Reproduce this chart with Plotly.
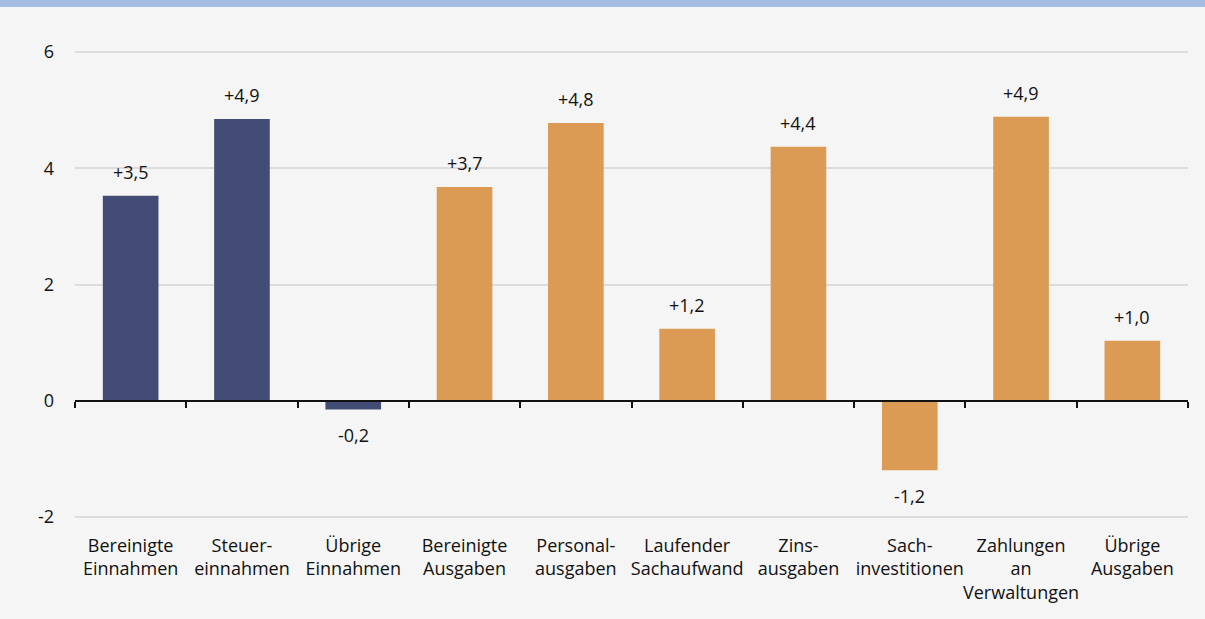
import plotly.graph_objects as go

categories = ["Bereinigte<br>Einnahmen", "Steuer-<br>einnahmen", "Übrige<br>Einnahmen",
              "Bereinigte<br>Ausgaben", "Personal-<br>ausgaben", "Laufender<br>Sachaufwand",
              "Zins-<br>ausgaben", "Sach-<br>investitionen", "Zahlungen<br>an<br>Verwaltungen",
              "Übrige<br>Ausgaben"]
values = [3.53, 4.85, -0.15, 3.68, 4.78, 1.24, 4.37, -1.2, 4.89, 1.03]
value_labels = ["+3,5", "+4,9", "-0,2", "+3,7", "+4,8", "+1,2", "+4,4", "-1,2", "+4,9", "+1,0"]
group = ["in", "in", "in", "out", "out", "out", "out", "out", "out", "out"]
y_ticks = [-2, 0, 2, 4, 6]
y_tick_labels = ["-2", "0", "2", "4", "6"]

NAVY = "#434c75"
ORANGE = "#db9b54"
FONT = "Open Sans, Noto Sans, sans-serif"
FS = 18

YMIN, YMAX = -2.02, 6.02
MT, MB = 51, 101
PH = 619 - MT - MB

xpos = list(range(len(categories)))
fig = go.Figure()
for g, col in (("in", NAVY), ("out", ORANGE)):
    xs = [x for x, gg in zip(xpos, group) if gg == g]
    ys = [v for v, gg in zip(values, group) if gg == g]
    fig.add_trace(go.Bar(x=xs, y=ys, width=0.5, marker=dict(color=col, line=dict(width=0)),
                         hoverinfo="skip", showlegend=False))

# invisible trace for label axis
fig.add_trace(go.Scatter(x=[0], y=[0], xaxis="x2", mode="markers",
                         marker=dict(opacity=0), hoverinfo="skip", showlegend=False))

for x, v, t in zip(xpos, values, value_labels):
    fig.add_annotation(x=x, y=v, text=t, showarrow=False,
                       yanchor="bottom" if v >= 0 else "top",
                       yshift=10 if v >= 0 else -12,
                       font=dict(family=FONT, size=FS, color="#111111"))

# top band
fig.add_shape(type="rect", xref="paper", yref="paper", x0=-0.1, x1=1.1,
              y0=1 + (MT - 7) / PH, y1=1.2, fillcolor="#a3bde2", line=dict(width=0), layer="below")

fig.update_layout(
    width=1205, height=619,
    margin=dict(l=75, r=17, t=MT, b=MB, autoexpand=False),
    paper_bgcolor="#f5f5f5", plot_bgcolor="#f5f5f5",
    barmode="overlay",
    font=dict(family=FONT, size=FS, color="#111111"),
    xaxis=dict(range=[-0.5, 9.5], anchor="free", position=(0 - YMIN) / (YMAX - YMIN),
               showline=True, linecolor="#111111", linewidth=1.8,
               tickmode="array", tickvals=[i - 0.5 for i in range(11)],
               ticks="outside", ticklen=6, tickwidth=1.8, tickcolor="#111111",
               showticklabels=False, showgrid=False, zeroline=False, fixedrange=True),
    xaxis2=dict(range=[-0.5, 9.5], overlaying="x", anchor="y", side="bottom",
                tickmode="array", tickvals=xpos, ticktext=categories,
                showline=False, showgrid=False, zeroline=False, ticks="",
                tickangle=0, automargin=False, ticklabelstandoff=15,
                tickfont=dict(family=FONT, size=FS, color="#111111")),
    yaxis=dict(range=[YMIN, YMAX], tickmode="array", tickvals=y_ticks, ticktext=y_tick_labels,
               showgrid=True, gridcolor="#dcdcdc", gridwidth=2, zeroline=False,
               showline=False, ticks="", ticklabelstandoff=20, automargin=False,
               tickfont=dict(family=FONT, size=FS, color="#111111")),
)

fig.write_html("out.html", config={"displayModeBar": False},
               post_script="document.body.style.margin='0';document.body.style.background='#f5f5f5';")
